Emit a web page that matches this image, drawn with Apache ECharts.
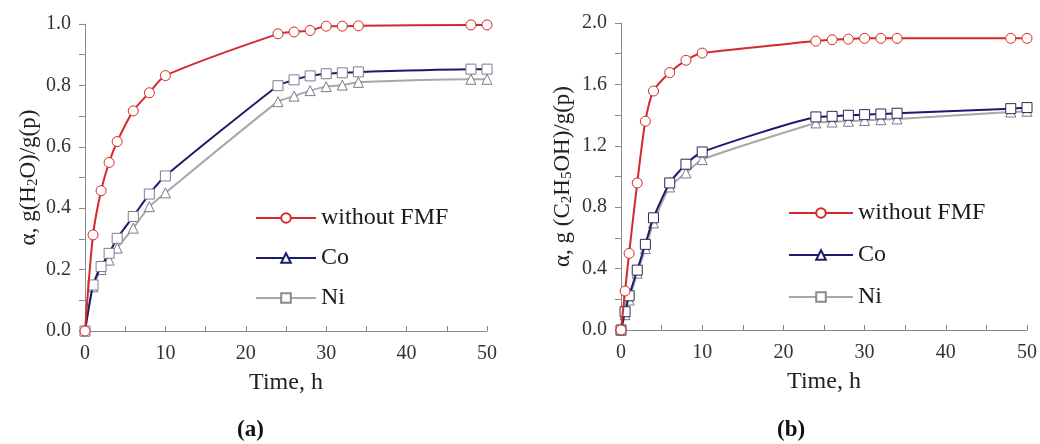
<!DOCTYPE html>
<html>
<head>
<meta charset="utf-8">
<script src="https://cdn.jsdelivr.net/npm/echarts@6/dist/echarts.min.js"></script>
<style>
html,body{margin:0;padding:0;background:#fff;}
#c{width:1040px;height:444px;}
</style>
</head>
<body>
<div id="c"></div>
<script>
// ---- Data (a): water sorption ----
var timeA = [0, 1, 2, 3, 4, 6, 8, 10, 24, 26, 28, 30, 32, 34, 48, 50];
var redA  = [0, 0.313, 0.457, 0.549, 0.617, 0.717, 0.776, 0.832, 0.968, 0.974, 0.979, 0.993, 0.993, 0.994, 0.997, 0.997];
var coA   = [0, 0.15, 0.21, 0.253, 0.302, 0.373, 0.446, 0.505, 0.799, 0.818, 0.831, 0.838, 0.841, 0.844, 0.853, 0.853];
var niA   = [0, 0.144, 0.2, 0.231, 0.27, 0.335, 0.405, 0.45, 0.747, 0.765, 0.783, 0.796, 0.801, 0.81, 0.82, 0.82];

// ---- Data (b): ethanol sorption ----
var timeB = [0, 0.5, 1, 2, 3, 4, 6, 8, 10, 24, 26, 28, 30, 32, 34, 48, 50];
var redB  = [0, 0.254, 0.499, 0.958, 1.36, 1.557, 1.677, 1.757, 1.804, 1.882, 1.891, 1.895, 1.9, 1.9, 1.9, 1.9, 1.9];
var coB   = [0, 0.119, 0.223, 0.39, 0.558, 0.731, 0.958, 1.08, 1.16, 1.388, 1.392, 1.399, 1.403, 1.407, 1.412, 1.442, 1.449];
var niB   = [0, 0.10, 0.195, 0.37, 0.53, 0.698, 0.932, 1.023, 1.11, 1.349, 1.355, 1.36, 1.365, 1.37, 1.375, 1.42, 1.425];

var seriesNames = ['without FMF', 'Co', 'Ni'];
var xTitle = 'Time, h';
var yTitleA = '\u03b1, g(H{s|2}O)/g(p)';
var yTitleB = '\u03b1, g (C{s|2}H{s|5}OH)/g(p)';
var panelLabels = ['(a)', '(b)'];

var FONT = "'Liberation Serif','Times New Roman',serif";
var RED = '#d42a2c', NAVY = '#1c1c6c', GREY = '#a8a8a8';

function pairs(xs, ys, sym, style) {
  return xs.map(function (x, i) {
    var d = { value: [x, ys[i]] };
    if (sym) d.symbol = sym;
    if (style) d.itemStyle = style;
    return d;
  });
}

function xAxis(gi) {
  return {
    type: 'value', gridIndex: gi, min: 0, max: 50, interval: 10,
    name: xTitle, nameLocation: 'middle', nameGap: 40,
    nameTextStyle: { fontFamily: FONT, fontSize: 24, color: '#222' },
    axisLine: { show: true, lineStyle: { color: '#8a8a8a', width: 1 } },
    axisTick: { show: true, inside: true, length: 5, lineStyle: { color: '#8a8a8a' } },
    minorTick: { show: true, splitNumber: 2, length: 5, lineStyle: { color: '#8a8a8a' } },
    axisLabel: { fontFamily: FONT, fontSize: 20, color: '#333', margin: 13 },
    splitLine: { show: false }
  };
}
function yAxis(gi, max, interval, title, gap) {
  return {
    type: 'value', gridIndex: gi, min: 0, max: max, interval: interval,
    name: title, nameLocation: 'middle', nameGap: gap, nameRotate: 90,
    nameTextStyle: {
      fontFamily: FONT, fontSize: 23, color: '#222', lineHeight: 25,
      rich: { s: { fontFamily: FONT, fontSize: 15, lineHeight: 15, verticalAlign: 'bottom', color: '#222' } }
    },
    axisLine: { show: true, lineStyle: { color: '#8a8a8a', width: 1 } },
    axisTick: { show: true, inside: false, length: 6, lineStyle: { color: '#8a8a8a' } },
    minorTick: { show: true, splitNumber: 2, length: 6, lineStyle: { color: '#8a8a8a' } },
    axisLabel: { fontFamily: FONT, fontSize: 20, color: '#333', margin: 14,
      formatter: function (v) { return v.toFixed(1); } },
    splitLine: { show: false }
  };
}

function mkSeries(gi, xs, red, co, ni, sqBorder) {
  return [
    {
      name: seriesNames[2], type: 'line', xAxisIndex: gi, yAxisIndex: gi,
      symbol: 'rect', symbolSize: 10, smooth: 0.2,
      lineStyle: { color: GREY, width: 2 },
      itemStyle: { color: '#fff', borderColor: '#8a8a8a', borderWidth: 1 },
      data: pairs(xs, ni, 'triangle', { color: '#fff', borderColor: '#7a7a8a', borderWidth: 1 }),
      z: 2
    },
    {
      name: seriesNames[1], type: 'line', xAxisIndex: gi, yAxisIndex: gi,
      symbol: 'triangle', symbolSize: 10, smooth: 0.2,
      lineStyle: { color: NAVY, width: 2 },
      itemStyle: { color: '#fff', borderColor: NAVY, borderWidth: 1 },
      data: pairs(xs, co, 'rect', { color: '#fff', borderColor: sqBorder, borderWidth: 1 }),
      z: 3
    },
    {
      name: seriesNames[0], type: 'line', xAxisIndex: gi, yAxisIndex: gi,
      symbol: 'circle', symbolSize: 10, smooth: 0.25,
      lineStyle: { color: RED, width: 2 },
      itemStyle: { color: '#fff', borderColor: RED, borderWidth: 1 },
      data: pairs(xs, red),
      z: 4
    }
  ];
}

function legend(left, top, w, gap) {
  return {
    orient: 'vertical', left: left, top: top,
    itemWidth: w, itemHeight: 12, itemGap: gap,
    data: seriesNames,
    selectedMode: false,
    textStyle: { fontFamily: FONT, fontSize: 24, color: '#1a1a1a', lineHeight: 24 }
  };
}

var chart = echarts.init(document.getElementById('c'), null, { renderer: 'canvas' });
chart.setOption({
  animation: false,
  backgroundColor: '#fff',
  grid: [
    { left: 85, top: 24, width: 402, height: 307, containLabel: false },
    { left: 621, top: 23, width: 408, height: 307, containLabel: false }
  ],
  xAxis: [xAxis(0), xAxis(1)],
  yAxis: [yAxis(0, 1, 0.2, yTitleA, 44), yAxis(1, 2, 0.4, yTitleB, 46)],
  legend: [legend(250, 201, 60, 16), legend(783, 196, 64, 18)],
  series: mkSeries(0, timeA, redA, coA, niA, '#7c7c96').concat(mkSeries(1, timeB, redB, coB, niB, '#2a2a50')),
  graphic: [
    { type: 'text', left: 253 - 16, top: 419, style: { text: panelLabels[0], font: 'bold 23px ' + FONT, fill: '#111' } },
    { type: 'text', left: 793 - 16, top: 419, style: { text: panelLabels[1], font: 'bold 23px ' + FONT, fill: '#111' } }
  ]
});
</script>
</body>
</html>
